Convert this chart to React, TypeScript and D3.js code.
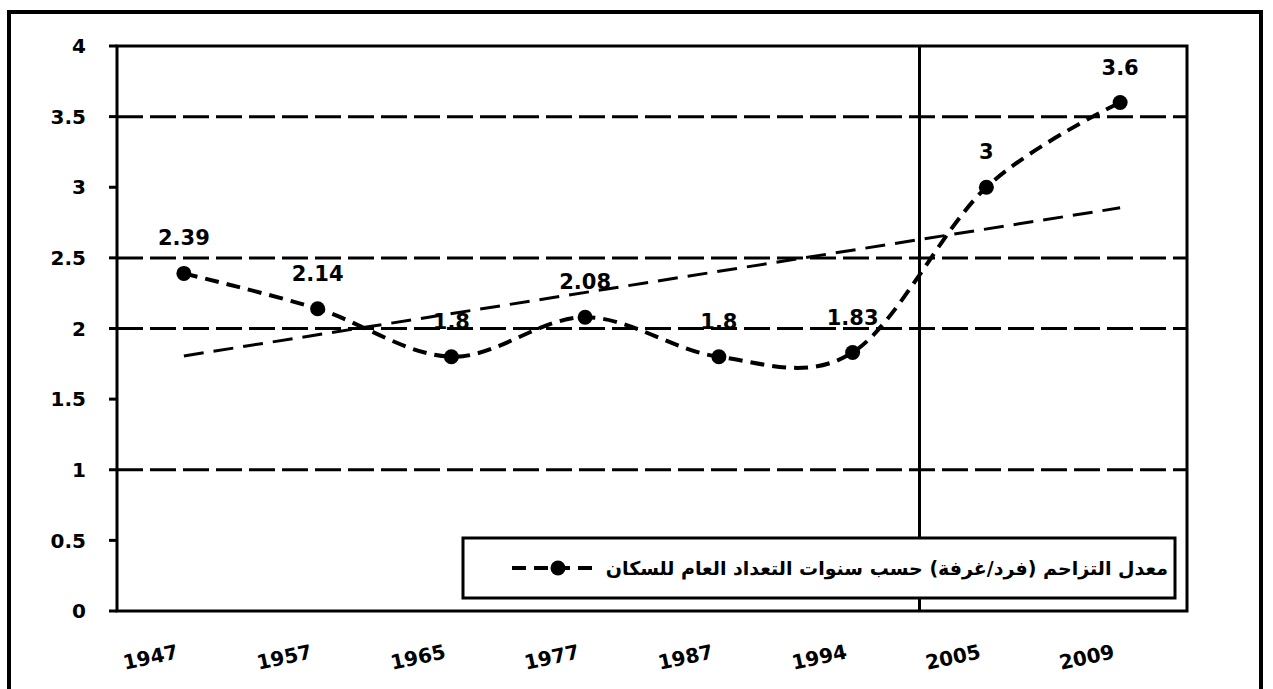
import * as d3 from "d3";

const years = ["1947", "1957", "1965", "1977", "1987", "1994", "2005", "2009"];
const values = [2.39, 2.14, 1.8, 2.08, 1.8, 1.83, 3, 3.6];
const valueLabels = ["2.39", "2.14", "1.8", "2.08", "1.8", "1.83", "3", "3.6"];
const yTicks = [0, 0.5, 1, 1.5, 2, 2.5, 3, 3.5, 4];
const gridValues = [1, 2, 2.5, 3.5];
const legendLabel = "معدل التزاحم (فرد/غرفة) حسب سنوات التعداد العام للسكان";

const W = 1273;
const H = 689;
const plot = { left: 117, top: 46, right: 1187, bottom: 611 };
const font = "'DejaVu Sans', sans-serif";

export default function App() {
  const x = d3.scaleBand().domain(years).range([plot.left, plot.right]);
  const y = d3.scaleLinear().domain([0, 4]).range([plot.bottom, plot.top]);
  const cx = (d: string) => (x(d) as number) + x.bandwidth() / 2;

  const pts: [number, number][] = years.map((d, i) => [cx(d), y(values[i])]);
  const line = d3.line().curve(d3.curveCatmullRom.alpha(0));

  // linear trendline (least squares over category index)
  const idx = values.map((_, i) => i);
  const mx = d3.mean(idx) as number;
  const my = d3.mean(values) as number;
  const slope =
    d3.sum(idx, (i) => (i - mx) * (values[i] - my)) /
    d3.sum(idx, (i) => (i - mx) * (i - mx));
  const trend = (i: number) => my + slope * (i - mx);
  const n = years.length - 1;

  // boundary between 1994 and 2005
  const vLine = x(years[6]) as number;

  return (
    <svg
      width={W}
      height={H}
      style={{ position: "absolute", left: 0, top: 0, background: "#fff" }}
    >
      {/* outer frame */}
      <rect x={9} y={12} width={1252} height={720} fill="none" stroke="#000" strokeWidth={4} />

      {/* gridlines */}
      {gridValues.map((v) => (
        <line
          key={v}
          x1={plot.left}
          x2={plot.right}
          y1={y(v)}
          y2={y(v)}
          stroke="#000"
          strokeWidth={3}
          strokeDasharray="26 7"
        />
      ))}
      <line x1={vLine} x2={vLine} y1={plot.top} y2={plot.bottom} stroke="#000" strokeWidth={3} />

      {/* plot area border */}
      <rect
        x={plot.left}
        y={plot.top}
        width={plot.right - plot.left}
        height={plot.bottom - plot.top}
        fill="none"
        stroke="#000"
        strokeWidth={3}
      />

      {/* y axis ticks and labels */}
      {yTicks.map((t) => (
        <g key={t}>
          <line x1={plot.left - 8} x2={plot.left} y1={y(t)} y2={y(t)} stroke="#000" strokeWidth={3} />
          <text
            x={86}
            y={y(t)}
            dy="0.36em"
            textAnchor="end"
            fontFamily={font}
            fontWeight="bold"
            fontSize={20}
          >
            {t}
          </text>
        </g>
      ))}

      {/* x labels */}
      {years.map((d) => (
        <text
          key={d}
          transform={`translate(${cx(d) - 32},${664}) rotate(-12)`}
          textAnchor="middle"
          fontFamily={font}
          fontWeight="bold"
          fontSize={20}
        >
          {d}
        </text>
      ))}

      {/* trendline */}
      <line
        x1={cx(years[0])}
        x2={cx(years[n])}
        y1={y(trend(0))}
        y2={y(trend(n))}
        stroke="#000"
        strokeWidth={3}
        strokeDasharray="20 10"
      />

      {/* series */}
      <path d={line(pts) as string} fill="none" stroke="#000" strokeWidth={4} strokeDasharray="14 8" />
      {pts.map((p, i) => (
        <circle key={i} cx={p[0]} cy={p[1]} r={7.5} fill="#000" />
      ))}
      {pts.map((p, i) => (
        <text
          key={"l" + i}
          x={p[0]}
          y={p[1] - 28}
          textAnchor="middle"
          fontFamily={font}
          fontWeight="bold"
          fontSize={21}
        >
          {valueLabels[i]}
        </text>
      ))}

      {/* legend */}
      <rect x={463} y={538} width={712} height={60} fill="#fff" stroke="#000" strokeWidth={3} />
      <line x1={512} x2={597} y1={568} y2={568} stroke="#000" strokeWidth={4} strokeDasharray="14 8" />
      <circle cx={558} cy={568} r={7.5} fill="#000" />
      <text
        x={1168}
        y={568}
        dy="0.35em"
        direction="rtl"
        textAnchor="start"
        fontFamily={font}
        fontWeight="bold"
        fontSize={19}
      >
        {legendLabel}
      </text>
    </svg>
  );
}
